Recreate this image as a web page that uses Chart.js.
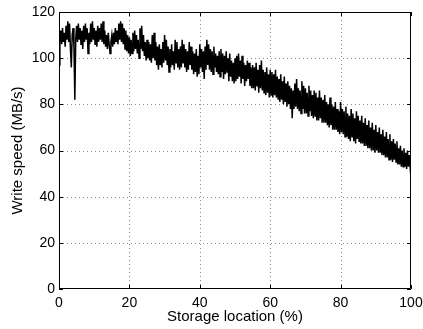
<!DOCTYPE html>
<html>
<head>
<meta charset="utf-8">
<script src="https://cdn.jsdelivr.net/npm/chart.js@4/dist/chart.umd.min.js"></script>
<style>
html,body{margin:0;padding:0;background:#fff;}
canvas{display:block;}
</style>
</head>
<body>
<canvas id="c" width="423" height="329"></canvas>
<script>
// Sample positions along the disk (%), evenly spaced every 0.25 %
const storagePct = Array.from({length: 401}, (_, i) => i * 0.25);

// Write speed (MB/s), one value per 0.25 %
const writeSpeed = [
  97,108,112,106,113,107,111,105,114,108,116,107,115,104,96,110,113,105,82,108,
  114,107,115,108,113,106,112,104,114,107,115,108,113,102,111,106,115,107,116,108,
  113,106,112,105,114,107,113,108,115,107,116,106,112,105,110,104,111,106,102,107,
  110,105,111,106,113,107,112,106,115,108,116,107,115,106,113,104,112,103,110,102,
  109,101,108,102,111,103,112,104,110,102,108,100,113,104,114,103,110,101,107,99,
  108,100,107,99,106,98,110,100,111,99,107,97,105,95,106,97,104,96,107,98,
  110,99,108,97,105,94,104,96,106,97,103,95,108,98,107,96,104,95,105,96,
  108,98,106,96,104,94,103,95,107,97,105,95,103,93,102,94,104,92,101,93,
  106,96,104,94,103,91,105,95,108,97,106,95,104,94,103,93,105,96,102,94,
  101,93,103,92,104,94,102,91,101,93,103,94,100,90,102,92,99,90,98,89,
  100,90,101,91,102,92,99,89,101,91,98,88,97,90,99,91,98,88,96,87,
  97,87,96,86,98,88,95,85,97,87,99,86,95,85,94,84,96,85,93,83,
  95,84,94,83,93,84,95,83,92,82,91,81,93,82,90,80,92,81,89,79,
  90,80,88,78,87,74,86,78,89,79,91,78,87,77,86,76,90,78,88,76,
  87,76,85,75,88,77,86,75,84,74,86,75,85,73,83,73,86,74,83,72,
  82,72,84,72,81,71,80,70,83,71,80,69,79,69,81,69,78,68,77,67,
  81,68,78,67,77,66,79,66,76,65,75,64,78,66,76,64,74,63,77,65,
  75,64,73,63,75,63,72,62,74,62,71,61,73,61,70,60,72,60,69,59,
  71,60,68,59,70,59,67,58,69,58,66,57,68,57,65,56,67,56,64,55,
  65,56,63,55,64,54,61,54,62,53,60,53,61,53,59,52,60,53,58,53,
  56
];

const xTicks = [0, 20, 40, 60, 80, 100];
const yTicks = [0, 20, 40, 60, 80, 100, 120];

const FONT = 'Liberation Sans, Arial, Helvetica, sans-serif';

const gridPlugin = {
  id: 'dotgrid',
  beforeDatasetsDraw(chart) {
    const {ctx, chartArea: a, scales} = chart;
    ctx.save();
    ctx.strokeStyle = '#8c8c8c';
    ctx.lineWidth = 1;
    ctx.setLineDash([1, 3]);
    ctx.beginPath();
    xTicks.forEach(v => {
      if (v === 0 || v === 100) return;
      const px = Math.round(scales.x.getPixelForValue(v)) + 0.5;
      ctx.moveTo(px, a.top); ctx.lineTo(px, a.bottom);
    });
    yTicks.forEach(v => {
      if (v === 0 || v === 120) return;
      const py = Math.round(scales.y.getPixelForValue(v)) + 0.5;
      ctx.moveTo(a.left, py); ctx.lineTo(a.right, py);
    });
    ctx.stroke();
    ctx.restore();
  }
};

const boxPlugin = {
  id: 'box',
  afterDraw(chart) {
    const {ctx, chartArea: a, scales} = chart;
    ctx.save();
    ctx.strokeStyle = '#000';
    ctx.lineWidth = 1;
    ctx.beginPath();
    ctx.rect(a.left + 0.5, a.top + 0.5, a.right - a.left - 1, a.bottom - a.top - 1);
    ctx.stroke();
    const L = 4;
    ctx.beginPath();
    xTicks.forEach(v => {
      const px = Math.round(scales.x.getPixelForValue(v)) + 0.5;
      ctx.moveTo(px, a.bottom); ctx.lineTo(px, a.bottom - L);
      ctx.moveTo(px, a.top); ctx.lineTo(px, a.top + L);
    });
    yTicks.forEach(v => {
      const py = Math.round(scales.y.getPixelForValue(v)) + 0.5;
      ctx.moveTo(a.left, py); ctx.lineTo(a.left + L, py);
      ctx.moveTo(a.right, py); ctx.lineTo(a.right - L, py);
    });
    ctx.stroke();
    ctx.restore();
  }
};

new Chart(document.getElementById('c'), {
  type: 'line',
  data: {
    datasets: [{
      data: storagePct.map((x, i) => ({x: x, y: writeSpeed[i]})),
      borderColor: '#000',
      borderWidth: 1.5,
      pointRadius: 0,
      tension: 0,
      fill: false
    }]
  },
  options: {
    responsive: false,
    animation: false,
    devicePixelRatio: 1,
    layout: {padding: {top: 12, right: 12, left: 0, bottom: 0}},
    plugins: {legend: {display: false}, tooltip: {enabled: false}},
    scales: {
      x: {
        type: 'linear', min: 0, max: 100,
        afterBuildTicks: s => { s.ticks = xTicks.map(v => ({value: v})); },
        afterFit: s => { s.height = 40; s.paddingLeft = 0; s.paddingRight = 0; },
        ticks: {color: '#000', font: {family: FONT, size: 14}, padding: 6, maxRotation: 0},
        grid: {display: false, drawTicks: false},
        border: {display: false},
        title: {display: true, text: 'Storage location (%)', color: '#000', font: {family: FONT, size: 15}, padding: {top: 0, bottom: 3}}
      },
      y: {
        type: 'linear', min: 0, max: 120,
        afterBuildTicks: s => { s.ticks = yTicks.map(v => ({value: v})); },
        afterFit: s => { s.width = 59; s.paddingTop = 0; s.paddingBottom = 0; },
        ticks: {color: '#000', font: {family: FONT, size: 14}, padding: 4},
        grid: {display: false, drawTicks: false},
        border: {display: false},
        title: {display: true, text: 'Write speed (MB/s)', color: '#000', font: {family: FONT, size: 15}, padding: {top: 9, bottom: 0}}
      }
    }
  },
  plugins: [gridPlugin, boxPlugin]
});
</script>
</body>
</html>
